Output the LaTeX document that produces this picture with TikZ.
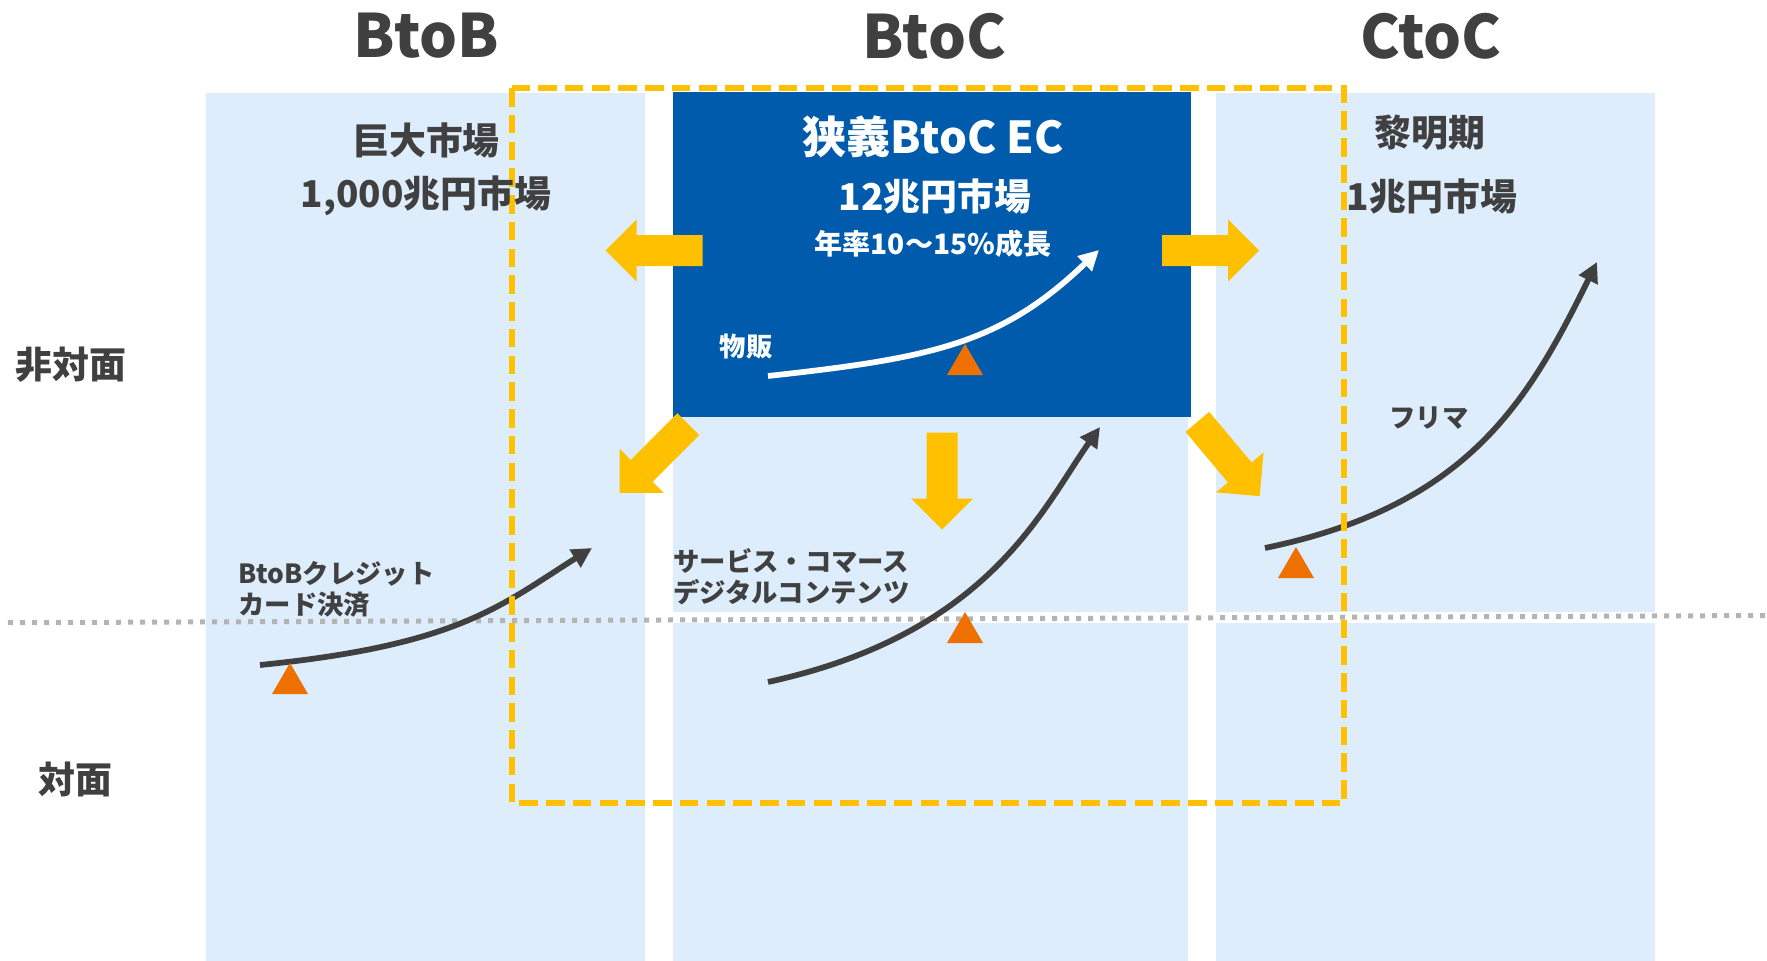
\documentclass[tikz,border=0pt]{standalone}
\usepackage{fontspec}
\setmainfont{Noto Sans CJK JP}
\usetikzlibrary{arrows.meta}

\definecolor{paleblue}{RGB}{221,237,252}
\definecolor{ecblue}{RGB}{0,91,172}
\definecolor{txtgrey}{RGB}{64,64,64}
\definecolor{arrowyellow}{RGB}{255,192,0}
\definecolor{markorange}{RGB}{238,112,0}
\definecolor{dotgrey}{RGB}{180,180,180}

\tikzset{
  header/.style={font=\fontsize{34}{40}\selectfont\bfseries, text=txtgrey},
  market/.style={font=\fontsize{21}{25}\selectfont\bfseries, text=txtgrey},
  small/.style={font=\fontsize{15}{18}\selectfont\bfseries, text=txtgrey, align=left, inner sep=0pt},
  trend/.style={line width=0.115cm, draw=txtgrey, -{Triangle[length=0.4cm,width=0.4cm]}},
  bigarrow/.pic={\fill[arrowyellow] (-48.5,-15.5) -- (17.5,-15.5) -- (17.5,-31) -- (48.5,0)
    -- (17.5,31) -- (17.5,15.5) -- (-48.5,15.5) -- cycle;},
  marker/.pic={\fill[markorange] (0,0) -- (18,31) -- (-18,31) -- cycle;}
}

\begin{document}
\begin{tikzpicture}[x=0.2mm, y=-0.2mm]
\useasboundingbox (0,0) rectangle (1767,961);

\fill[paleblue] (206,93) rectangle (645,961);
\fill[paleblue] (673,93) rectangle (1188,612);
\fill[paleblue] (673,623) rectangle (1188,961);
\fill[paleblue] (1216,93) rectangle (1655,612);
\fill[paleblue] (1216,623) rectangle (1655,961);
\fill[ecblue] (673,92) rectangle (1191,417);

\pic[rotate=180] at (654,250.5) {bigarrow};
\pic at (1210.5,250.5) {bigarrow};
\pic[rotate=-90] at (942,481) {bigarrow};
\pic[rotate=-135] at (654,458.5) {bigarrow};
\pic[rotate=-50] at (1228.5,459) {bigarrow};

\draw[dotgrey, line width=0.1cm, dash pattern=on 0.1cm off 0.14cm] (8,622.7) -- (1767,615.5);

\coordinate (a0) at (260,665);
\coordinate (a1) at (592,548);
\coordinate (b0) at (768,682);
\coordinate (b1) at (1100,427);
\coordinate (c0) at (768,376);
\coordinate (c1) at (1099,250);
\coordinate (d0) at (1265,548);
\coordinate (d1) at (1597,262);

\draw[trend] (a0) .. controls (460,645) and (501,605) .. (a1);
\draw[trend] (b0) .. controls (989,634) and (1042,509) .. (b1);
\draw[trend, draw=white] (c0) .. controls (932,358) and (1001,344) .. (c1);
\draw[trend] (d0) .. controls (1468,506) and (1528,402) .. (d1);

\pic at (290,663) {marker};
\pic at (965,612) {marker};
\pic at (965,344) {marker};
\pic at (1296,547) {marker};

\draw[arrowyellow, line width=0.12cm, dash pattern=on 0.37cm off 0.165cm] (512,88) rectangle (1344,803);

\node[header] (btob) at (426,36) {BtoB};
\node[header] (btoc) at (934,36) {BtoC};
\node[header] (ctoc) at (1431,36) {CtoC};

\node[market] (huge) at (426,140) {巨大市場};
\node[market] (huge size) at (426,196) {1,000兆円市場};
\node[market, text=white, font=\fontsize{25}{30}\selectfont\bfseries] (ec) at (933,137) {狭義BtoC EC};
\node[market, text=white] (ec size) at (935,196) {12兆円市場};
\node[market, text=white, font=\fontsize{16}{19}\selectfont\bfseries] (ec growth) at (933,244) {年率10～15\%成長};
\node[market] (dawn) at (1430,133) {黎明期};
\node[market] (dawn size) at (1432,196) {1兆円市場};

\node[market] (online) at (71,365) {非対面};
\node[market] (offline) at (75,779) {対面};

\node[small, text=white] (goods) at (746,347) {物販};
\node[small, anchor=west] (card) at (238,589.5) {BtoBクレジット\\カード決済};
\node[small, anchor=west] (service) at (673,576.5) {サービス・コマース\\デジタルコンテンツ};
\node[small] (flea) at (1429,418) {フリマ};

\end{tikzpicture}
\end{document}
